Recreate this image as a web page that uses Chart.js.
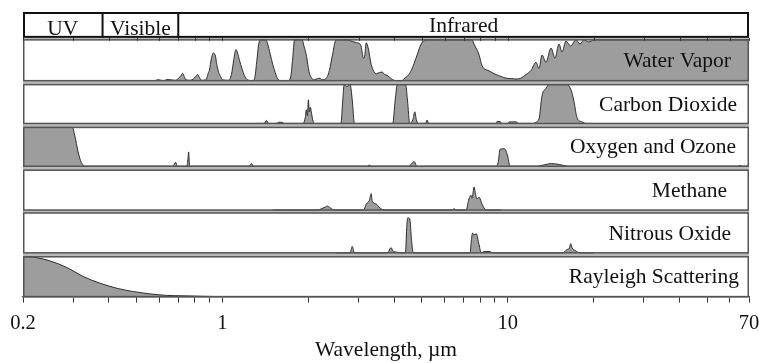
<!DOCTYPE html>
<html>
<head>
<meta charset="utf-8">
<title>Atmospheric absorption bands</title>
<script src="https://cdn.jsdelivr.net/npm/chart.js@4.4.1/dist/chart.umd.min.js"></script>
<style>
  html, body { margin: 0; padding: 0; background: #fff; }
  #wrap { width: 759px; height: 363px; position: relative; }
</style>
</head>
<body>
<div id="wrap"><canvas id="chart"></canvas></div>
<script>
// spectral regions in the header strip (µm)
const bandNames = ['UV', 'Visible', 'Infrared'];
const bandEdges = [0.2, 0.38, 0.7, 70];

// x axis ticks, only some get a label
const xTicks = [0.2, 0.3, 0.4, 0.5, 0.6, 0.7, 0.8, 0.9, 1, 2, 3, 4, 5, 6, 7, 8, 9, 10, 20, 30, 40, 50, 60, 70];
const xTickLabels = [0.2, 1, 10, 70];

const gasNames = ['Water Vapor', 'Carbon Dioxide', 'Oxygen and Ozone', 'Methane', 'Nitrous Oxide', 'Rayleigh Scattering'];

// absorption (0..1), wavelength in µm
const waterWl = [0.587, 0.60, 0.62, 0.645, 0.66, 0.685, 0.70, 0.715, 0.725, 0.735,
  0.745, 0.77, 0.79, 0.805, 0.818, 0.83, 0.845, 0.875, 0.893, 0.90,
  0.915, 0.93, 0.945, 0.955, 0.97, 0.985, 1.0, 1.05, 1.075, 1.095,
  1.115, 1.13, 1.147, 1.17, 1.195, 1.225, 1.28, 1.30, 1.32, 1.345,
  1.37, 1.42, 1.44, 1.47, 1.50, 1.53, 1.56, 1.60, 1.70, 1.74,
  1.76, 1.79, 1.90, 1.93, 1.97, 2.01, 2.06, 2.10, 2.15, 2.2,
  2.23, 2.28, 2.33, 2.37, 2.43, 2.5, 2.75, 2.85, 2.95, 3.05,
  3.12, 3.15, 3.19, 3.24, 3.32, 3.46, 3.55, 3.63, 3.7, 3.78,
  3.93, 4.1, 4.26, 4.33, 4.5, 4.62, 4.81, 4.97, 5.17, 7.49,
  7.62, 7.93, 8.12, 8.59, 9.09, 9.5, 9.86, 10.3, 10.68, 11.1,
  11.58, 12.06, 12.55, 12.86, 13.18, 13.6, 14.17, 14.63, 15.11, 15.48,
  15.99, 16.6, 17.33, 17.9, 18.48, 19.2, 20.03, 70];
const waterAbs = [0.02, 0.02, 0, 0.03, 0.02, 0.01, 0.05, 0.12, 0.18, 0.1,
  0.02, 0.01, 0.04, 0.1, 0.15, 0.08, 0.01, 0.02, 0.2, 0.25,
  0.55, 0.68, 0.6, 0.4, 0.2, 0.1, 0.02, 0.01, 0.15, 0.5,
  0.76, 0.68, 0.5, 0.3, 0.12, 0.02, 0, 0.1, 0.5, 0.95,
  1, 1, 0.9, 0.65, 0.4, 0.2, 0.05, 0, 0, 0.15,
  0.5, 1, 1, 0.85, 0.6, 0.22, 0.05, 0.02, 0.05, 0.06,
  0.02, 0.03, 0.1, 0.25, 0.63, 1, 1, 0.96, 0.93, 0.88,
  0.55, 0.6, 0.93, 0.8, 0.4, 0.17, 0.2, 0.21, 0.15, 0.13,
  0.03, 0, 0, 0.05, 0.15, 0.3, 0.63, 0.9, 1, 1,
  0.89, 0.63, 0.37, 0.24, 0.15, 0.1, 0.06, 0.05, 0.04, 0.06,
  0.15, 0.25, 0.45, 0.3, 0.63, 0.45, 0.8, 0.55, 0.9, 0.7,
  0.97, 0.85, 1, 0.9, 1, 0.95, 1, 1];

const co2Wl = [1.3, 1.40, 1.425, 1.45, 1.55, 1.57, 1.62, 1.64, 1.92, 1.95,
  1.967, 1.985, 2.0, 2.015, 2.032, 2.048, 2.07, 2.1, 2.6, 2.64,
  2.67, 2.73, 2.8, 2.85, 2.9, 3.95, 4.03, 4.1, 4.38, 4.45,
  4.53, 4.65, 4.72, 4.78, 4.85, 5.15, 5.21, 5.28, 9.1, 9.17,
  9.4, 9.5, 10.0, 10.1, 10.7, 10.9, 12.3, 12.45, 12.86, 13.18,
  13.6, 13.94, 16.1, 16.64, 17.05, 17.47, 18.18, 18.8, 19.5];
const co2Abs = [0, 0, 0.08, 0, 0, 0.03, 0.03, 0, 0, 0.15,
  0.35, 0.2, 0.61, 0.3, 0.42, 0.3, 0.1, 0, 0, 0.6,
  1, 0.95, 1, 0.6, 0, 0, 0.6, 1, 1, 0.6,
  0, 0.1, 0.3, 0.1, 0, 0, 0.09, 0, 0, 0.05,
  0.05, 0, 0, 0.04, 0.04, 0, 0, 0.02, 0.12, 0.72,
  0.9, 1, 1, 0.87, 0.57, 0.15, 0.04, 0, 0];

const o2Wl = [0.2, 0.298, 0.3035, 0.312, 0.32, 0.334, 0.67, 0.685, 0.695, 0.75,
  0.757, 0.761, 0.767, 1.24, 1.263, 1.285, 3.22, 3.27, 3.32, 4.5,
  4.62, 4.7, 4.8, 9.1, 9.25, 9.4, 9.75, 9.95, 10.2, 12.6,
  13.5, 14.2, 15.0, 15.7, 16.3, 64, 65.3, 66.5, 70];
const o2Abs = [1, 1, 0.8, 0.37, 0.1, 0, 0, 0.1, 0, 0,
  0.2, 0.37, 0, 0, 0.07, 0, 0, 0.03, 0, 0,
  0.08, 0.12, 0, 0, 0.1, 0.44, 0.45, 0.3, 0, 0,
  0.04, 0.07, 0.05, 0.02, 0, 0, 0.02, 0, 0];

const ch4Wl = [1.5, 1.63, 1.648, 1.67, 2.15, 2.22, 2.3, 2.33, 2.39, 2.47,
  3.12, 3.19, 3.27, 3.32, 3.35, 3.46, 3.54, 3.69, 6.35, 6.48,
  6.6, 7.14, 7.31, 7.43, 7.49, 7.62, 7.68, 7.8, 7.93, 8.12,
  8.39, 9.5];
const ch4Abs = [0, 0, 0.01, 0, 0, 0.03, 0.08, 0.1, 0.05, 0,
  0, 0.15, 0.24, 0.41, 0.22, 0.15, 0.07, 0, 0, 0.03,
  0, 0, 0.28, 0.37, 0.3, 0.58, 0.45, 0.28, 0.32, 0.15,
  0, 0];

const n2oWl = [2.5, 2.8, 2.85, 2.9, 3.8, 3.86, 3.9, 3.95, 4.06, 4.2,
  4.38, 4.42, 4.46, 4.53, 4.6, 4.66, 7.37, 7.45, 7.52, 7.6,
  7.75, 7.93, 8.06, 8.26, 8.7, 8.8, 15.6, 16.1, 16.45, 16.6,
  16.8, 17.2, 17.9, 20];
const n2oAbs = [0, 0, 0.16, 0, 0, 0.1, 0.13, 0.05, 0.02, 0,
  0, 0.6, 0.88, 0.85, 0.3, 0, 0, 0.3, 0.5, 0.45,
  0.48, 0.2, 0, 0.03, 0.03, 0, 0, 0.08, 0.12, 0.23,
  0.12, 0.06, 0, 0];

const rayWl = [0.2, 0.21, 0.223, 0.248, 0.285, 0.324, 0.371, 0.426, 0.484, 0.555, 0.637, 0.725, 0.831, 0.976];
const rayAbs = [1, 1, 0.98, 0.9, 0.73, 0.51, 0.34, 0.21, 0.13, 0.07, 0.03, 0.02, 0.01, 0];

const series = [
  [waterWl, waterAbs], [co2Wl, co2Abs], [o2Wl, o2Abs],
  [ch4Wl, ch4Abs], [n2oWl, n2oAbs], [rayWl, rayAbs]
];

// layout: boxes in px of a 286 px tall plot area (top, bottom)
const PLOT_H = 286;
const headerBox = [0, 26];
const bandTextLift = [3, 3, 6];
const panelBoxes = [[28, 69], [73, 112], [116, 155], [159, 199], [202, 242], [246, 286]];
const labelInset = [18, 12, 13, 22, 18, 10];

const FONT = "'Liberation Serif', 'Times New Roman', serif";
const FSIZE = 21.5;

// one hidden y axis per panel, range chosen so 0..1 fills its box
const yScales = {};
panelBoxes.forEach(([t, b], i) => {
  const h = (b - t) / PLOT_H;
  const min = -(1 - b / PLOT_H) / h;
  yScales['y' + i] = { type: 'linear', display: false, min: min, max: min + 1 / h };
});

const datasets = series.map(([wl, abs], i) => ({
  label: gasNames[i],
  data: wl.map((w, k) => ({ x: w, y: abs[k] })),
  yAxisID: 'y' + i,
  borderColor: '#2e2e2e',
  borderWidth: 1,
  backgroundColor: '#9d9d9d',
  fill: 'origin',
  pointRadius: 0,
  cubicInterpolationMode: 'monotone'
}));

const panelPlugin = {
  id: 'panels',
  beforeDatasetsDraw(chart) {
    const { ctx, chartArea: a } = chart;
    const y0 = a.top + headerBox[1] / PLOT_H * a.height;
    ctx.save();
    ctx.fillStyle = '#b9b9b9';
    ctx.fillRect(a.left, y0, a.width, a.bottom - y0);
    ctx.fillStyle = '#fff';
    panelBoxes.forEach((_, i) => {
      const s = chart.scales['y' + i];
      const yt = s.getPixelForValue(1), yb = s.getPixelForValue(0);
      ctx.fillRect(a.left, yt, a.width, yb - yt);
    });
    ctx.restore();
  },
  afterDatasetsDraw(chart) {
    const { ctx, chartArea: a } = chart;
    const x = chart.scales.x;
    ctx.save();

    // panel frames and names
    ctx.font = FSIZE + 'px ' + FONT;
    ctx.fillStyle = '#111';
    ctx.textAlign = 'right';
    ctx.textBaseline = 'middle';
    panelBoxes.forEach((_, i) => {
      const s = chart.scales['y' + i];
      const yt = s.getPixelForValue(1), yb = s.getPixelForValue(0);
      ctx.strokeStyle = '#555';
      ctx.lineWidth = 1.5;
      ctx.strokeRect(a.left + 0.75, yt, a.width - 1.5, yb - yt);
      ctx.fillText(gasNames[i], a.right - labelInset[i], (yt + yb) / 2 + 1);
    });

    // header strip
    const ht = a.top + headerBox[0] / PLOT_H * a.height;
    const hb = a.top + headerBox[1] / PLOT_H * a.height;
    ctx.fillStyle = '#fff';
    ctx.fillRect(a.left, ht, a.width, hb - ht);
    ctx.strokeStyle = '#111';
    ctx.lineWidth = 2;
    ctx.strokeRect(a.left + 1, ht + 1, a.width - 2, hb - ht - 2);
    ctx.beginPath();
    bandEdges.slice(1, -1).forEach(v => {
      const px = x.getPixelForValue(v);
      ctx.moveTo(px, ht);
      ctx.lineTo(px, hb);
    });
    ctx.stroke();
    ctx.fillStyle = '#111';
    ctx.textAlign = 'center';
    ctx.textBaseline = 'alphabetic';
    bandNames.forEach((name, i) => {
      const cx = (x.getPixelForValue(bandEdges[i]) + x.getPixelForValue(bandEdges[i + 1])) / 2;
      ctx.fillText(name, cx, hb - bandTextLift[i]);
    });

    // small ticks under the header
    ctx.strokeStyle = '#333';
    ctx.lineWidth = 1;
    ctx.beginPath();
    xTicks.forEach(v => {
      const px = Math.round(x.getPixelForValue(v)) + 0.5;
      ctx.moveTo(px, hb);
      ctx.lineTo(px, hb + 3);
    });
    ctx.stroke();
    ctx.restore();
  }
};

new Chart(document.getElementById('chart'), {
  type: 'line',
  data: { datasets: datasets },
  options: {
    responsive: true,
    maintainAspectRatio: false,
    animation: false,
    layout: { padding: { left: 23, right: 10, top: 12, bottom: 0 } },
    plugins: { legend: { display: false }, tooltip: { enabled: false } },
    scales: Object.assign({
      x: {
        type: 'logarithmic',
        min: 0.2,
        max: 70,
        afterBuildTicks: (scale) => { scale.ticks = xTicks.map(v => ({ value: v })); },
        // keep the plot edges where the picture has them
        afterFit: (scale) => { scale.paddingLeft = 0; scale.paddingRight = 0; },
        ticks: {
          autoSkip: false,
          maxRotation: 0,
          padding: 9,
          color: '#111',
          font: { family: FONT, size: 20.5 },
          callback: (v) => xTickLabels.includes(v) ? String(v) : ''
        },
        grid: { display: true, drawOnChartArea: false, tickLength: 6, color: '#333' },
        border: { display: true, color: '#555', width: 1.5 },
        title: {
          display: true,
          text: 'Wavelength, µm',
          color: '#111',
          font: { family: FONT, size: FSIZE },
          padding: { top: -8, bottom: 0 }
        }
      }
    }, yScales)
  },
  plugins: [panelPlugin]
});
</script>
</body>
</html>
